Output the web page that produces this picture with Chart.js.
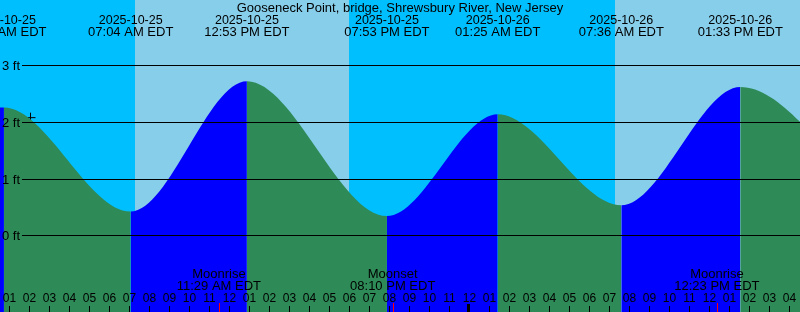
<!DOCTYPE html>
<html>
<head>
<meta charset="utf-8">
<title>Gooseneck Point tides</title>
<script src="https://cdn.jsdelivr.net/npm/chart.js@4.4.0/dist/chart.umd.min.js"></script>
<style>
  html, body { margin: 0; padding: 0; background: #fff; }
  #tideChart { display: block; }
</style>
</head>
<body>
<canvas id="tideChart" width="800" height="312"></canvas>
<script>
// ----------- Data (hours counted from 2025-10-25 00:00 EDT) -----------
const stationName = 'Gooseneck Point, bridge, Shrewsbury River, New Jersey';
const tideHours = [-5.5, 0.73, 7.07, 12.88, 19.88, 25.42, 31.6, 37.55, 44.6];
const tideFeet = [0.45, 2.26, 0.43, 2.72, 0.35, 2.14, 0.54, 2.62, 0.45];
const tideDates = ['', '2025-10-25', '2025-10-25', '2025-10-25', '2025-10-25', '2025-10-26', '2025-10-26', '2025-10-26', ''];
const tideClock = ['', '12:44 AM EDT', '07:04 AM EDT', '12:53 PM EDT', '07:53 PM EDT', '01:25 AM EDT', '07:36 AM EDT', '01:33 PM EDT', ''];

const dayStarts = [7.28, 31.3];   // sunrise
const dayEnds = [17.98, 48];      // sunset

const moonNames = ['Moonrise', 'Moonset', 'Moonrise'];
const moonHours = [11.48, 20.17, 36.38];
const moonClock = ['11:29 AM EDT', '08:10 PM EDT', '12:23 PM EDT'];

const feetTicks = [0, 1, 2, 3];
const nowHour = [2.06];
const nowFeet = [2.08];

// ----------- Colours / fonts -----------
const NIGHT = '#00bfff';
const DAY = '#87ceeb';
const RISING = '#0000ff';
const FALLING = '#2e8b57';
const FONT = '13px "Liberation Sans", Arial, sans-serif';
const DATE_FONT = '12.5px "Liberation Sans", Arial, sans-serif';
const HOUR_FONT = '12px "Liberation Sans", Arial, sans-serif';

const hourLabel = h => String(h % 12 === 0 ? 12 : h % 12).padStart(2, '0');

// ----------- Sky background -----------
const skyPlugin = {
  id: 'sky',
  beforeDatasetsDraw(chart) {
    const { ctx, chartArea: a, scales: { x } } = chart;
    ctx.save();
    ctx.fillStyle = NIGHT;
    ctx.fillRect(a.left, a.top, a.width, a.height);
    ctx.fillStyle = DAY;
    dayStarts.forEach((s, i) => {
      const x0 = Math.round(x.getPixelForValue(s));
      const x1 = Math.min(Math.round(x.getPixelForValue(dayEnds[i])), a.right);
      ctx.fillRect(x0, a.top, x1 - x0, a.height);
    });
    ctx.restore();
  }
};

// ----------- Grid, ticks and labels -----------
const decorPlugin = {
  id: 'decor',
  afterDatasetsDraw(chart) {
    const { ctx, chartArea: a, scales: { x, y } } = chart;
    ctx.save();
    ctx.font = FONT;
    ctx.fillStyle = '#000';
    ctx.strokeStyle = '#000';
    ctx.lineWidth = 1;

    // level lines
    feetTicks.forEach(f => {
      const py = Math.floor(y.getPixelForValue(f)) + 0.5;
      ctx.beginPath();
      ctx.moveTo(22, py);
      ctx.lineTo(a.right, py);
      ctx.stroke();
      ctx.textAlign = 'left';
      ctx.textBaseline = 'alphabetic';
      ctx.fillText(f + ' ft', 2, py + 4.5);
    });

    // title and extreme labels
    ctx.textAlign = 'center';
    ctx.fillText(stationName, (a.left + a.right) / 2, 12);
    tideHours.forEach((h, i) => {
      if (!tideDates[i]) return;
      const px = x.getPixelForValue(h);
      ctx.font = DATE_FONT;
      ctx.fillText(tideDates[i], px, 24);
      ctx.font = FONT;
      ctx.fillText(tideClock[i], px, 36);
    });

    // moon events
    moonHours.forEach((h, i) => {
      const px = x.getPixelForValue(h);
      ctx.fillText(moonNames[i], px, 278);
      ctx.fillText(moonClock[i], px, 290);
    });

    // hour ticks
    ctx.font = HOUR_FONT;
    for (let h = Math.ceil(x.min); h <= Math.floor(x.max); h++) {
      const px = Math.round(x.getPixelForValue(h));
      if (h % 24 === 0) {
        ctx.fillRect(px - 2, 304, 3, a.bottom - 304);
      } else {
        ctx.fillRect(px, 306, 1, a.bottom - 306);
      }
      ctx.fillText(hourLabel(h), px + 0.5, 302);
    }
    ctx.fillStyle = '#ff0000';
    moonHours.forEach(h => {
      const px = Math.round(x.getPixelForValue(h));
      ctx.fillRect(px, 303, 1, a.bottom - 303);
    });
    ctx.restore();
  }
};

new Chart(document.getElementById('tideChart'), {
  type: 'line',
  data: {
    datasets: [{
      label: 'Tide',
      data: tideHours.map((h, i) => ({ x: h, y: tideFeet[i] })),
      cubicInterpolationMode: 'monotone',
      fill: 'start',
      borderWidth: 0,
      borderColor: 'rgba(0,0,0,0)',
      backgroundColor: FALLING,
      pointRadius: 0,
      segment: {
        backgroundColor: c => c.p1.parsed.y > c.p0.parsed.y ? RISING : FALLING
      }
    }, {
      label: 'Now',
      data: nowHour.map((h, i) => ({ x: h, y: nowFeet[i] })),
      showLine: false,
      pointStyle: 'cross',
      pointRadius: 5,
      pointBorderWidth: 1,
      pointBorderColor: '#000'
    }]
  },
  options: {
    responsive: false,
    devicePixelRatio: 1,
    animation: false,
    layout: { padding: 0, autoPadding: false },
    plugins: { legend: { display: false }, tooltip: { enabled: false } },
    scales: {
      x: { type: 'linear', display: false, min: 0.535, max: 40.535 },
      y: { type: 'linear', display: false, min: -1.336, max: 4.148 }
    }
  },
  plugins: [skyPlugin, decorPlugin]
});
</script>
</body>
</html>
